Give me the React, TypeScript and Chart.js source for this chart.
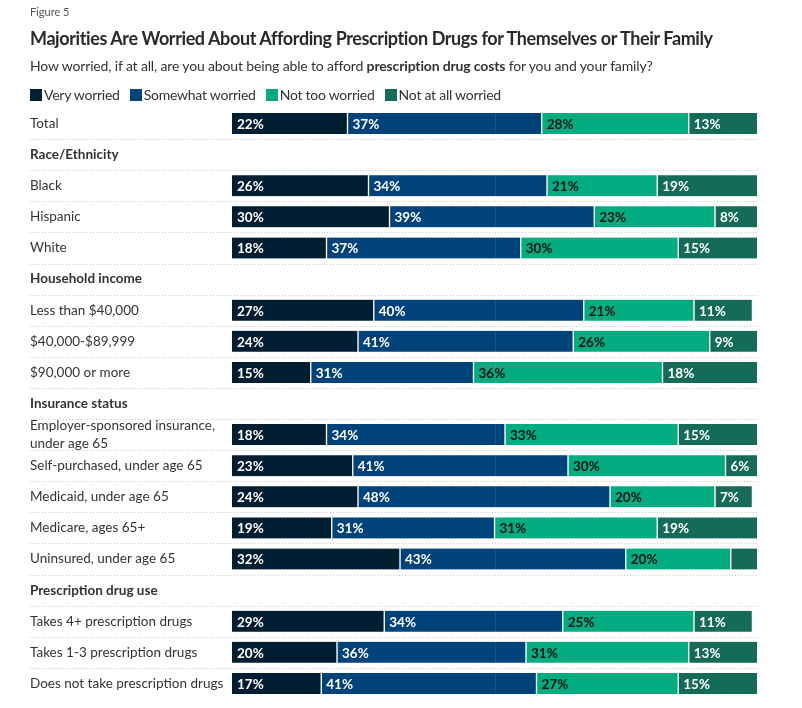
import React, { useEffect, useRef } from "react";
import { Chart, registerables } from "chart.js";

Chart.register(...registerables);

const FONT = "Lato, 'Noto Sans', sans-serif";

const categories: (string | string[])[] = [
  "Total",
  "Race/Ethnicity",
  "Black",
  "Hispanic",
  "White",
  "Household income",
  "Less than $40,000",
  "$40,000-$89,999",
  "$90,000 or more",
  "Insurance status",
  ["Employer-sponsored insurance,", "under age 65"],
  "Self-purchased, under age 65",
  "Medicaid, under age 65",
  "Medicare, ages 65+",
  "Uninsured, under age 65",
  "Prescription drug use",
  "Takes 4+ prescription drugs",
  "Takes 1-3 prescription drugs",
  "Does not take prescription drugs",
];

const sectionHeaders = ["Race/Ethnicity", "Household income", "Insurance status", "Prescription drug use"];

const seriesNames = ["Very worried", "Somewhat worried", "Not too worried", "Not at all worried"];
const seriesColors = ["#001e32", "#00427a", "#00ac80", "#136b58"];
const labelColors = ["#ffffff", "#ffffff", "#111111", "#ffffff"];

const veryWorried = [22, null, 26, 30, 18, null, 27, 24, 15, null, 18, 23, 24, 19, 32, null, 29, 20, 17];
const somewhatWorried = [37, null, 34, 39, 37, null, 40, 41, 31, null, 34, 41, 48, 31, 43, null, 34, 36, 41];
const notTooWorried = [28, null, 21, 23, 30, null, 21, 26, 36, null, 33, 30, 20, 31, 20, null, 25, 31, 27];
const notAtAllWorried = [13, null, 19, 8, 15, null, 11, 9, 18, null, 15, 6, 7, 19, 5, null, 11, 13, 15];

const seriesValues = [veryWorried, somewhatWorried, notTooWorried, notAtAllWorried];

const minLabelValue = 6;

export default function App() {
  const ref = useRef<HTMLCanvasElement>(null);

  useEffect(() => {
    document.body.style.margin = "0";
    const canvas = ref.current;
    if (!canvas) return;

    const separators = {
      id: "separators",
      afterDraw(chart: any) {
        const y = chart.scales.y;
        const area = chart.chartArea;
        const ctx = chart.ctx;
        ctx.save();
        ctx.strokeStyle = "#c8c8c8";
        ctx.lineWidth = 1;
        ctx.setLineDash([1, 2]);
        for (let i = 0; i < categories.length - 1; i++) {
          const py = Math.round((y.getPixelForValue(i) + y.getPixelForValue(i + 1)) / 2) + 0.5;
          ctx.beginPath();
          ctx.moveTo(30, py);
          ctx.lineTo(area.right, py);
          ctx.stroke();
        }
        ctx.restore();
      },
    };

    const valueLabels = {
      id: "valueLabels",
      afterDatasetsDraw(chart: any) {
        const ctx = chart.ctx;
        const x = chart.scales.x;
        const area = chart.chartArea;
        ctx.save();
        // faint 50% reference line over the bars
        const mx = Math.round(x.getPixelForValue(50)) + 0.5;
        ctx.strokeStyle = "rgba(255,255,255,0.09)";
        ctx.lineWidth = 1;
        ctx.beginPath();
        ctx.moveTo(mx, area.top);
        ctx.lineTo(mx, area.bottom);
        ctx.stroke();

        ctx.font = `bold 13.5px ${FONT}`;
        ctx.textBaseline = "middle";
        ctx.textAlign = "left";
        chart.data.datasets.forEach((ds: any, di: number) => {
          const meta = chart.getDatasetMeta(di);
          meta.data.forEach((el: any, i: number) => {
            const v = ds.data[i];
            if (v == null || v < minLabelValue) return;
            const p = el.getProps(["x", "y", "base"], true);
            ctx.fillStyle = labelColors[di];
            ctx.fillText(`${v}%`, Math.min(p.base, p.x) + 5, p.y + 1);
          });
        });
        ctx.restore();
      },
    };

    const chart = new Chart(canvas, {
      type: "bar",
      data: {
        labels: categories,
        datasets: seriesNames.map((name, di) => ({
          label: name,
          data: seriesValues[di],
          backgroundColor: seriesColors[di],
          borderColor: "#ffffff",
          borderWidth: {
            left: di === 0 ? 0 : 1,
            right: di === seriesNames.length - 1 ? 0 : 1,
            top: 0,
            bottom: 0,
          },
          borderSkipped: false,
          barThickness: 21,
        })),
      },
      options: {
        indexAxis: "y",
        animation: false,
        responsive: false,
        maintainAspectRatio: false,
        layout: { padding: { left: 30, right: 45, top: 108, bottom: 4 } },
        plugins: {
          legend: { display: false },
          tooltip: { enabled: false },
          title: { display: false },
        },
        scales: {
          x: {
            type: "linear",
            stacked: true,
            min: 0,
            max: 100,
            display: false,
          },
          y: {
            type: "category",
            stacked: true,
            offset: true,
            grid: { display: false },
            border: { display: false },
            afterFit: (scale: any) => {
              scale.width = 202;
            },
            ticks: {
              crossAlign: "far",
              padding: 0,
              autoSkip: false,
              color: "#333333",
              font: (ctx: any) => {
                const lbl = categories[ctx.index];
                const isHeader = typeof lbl === "string" && sectionHeaders.includes(lbl);
                return { family: FONT, size: 13.5, weight: isHeader ? "bold" : "normal", lineHeight: 1.33 };
              },
            },
          },
        },
      },
      plugins: [separators, valueLabels],
    } as any);

    return () => chart.destroy();
  }, []);

  return (
    <div style={{ position: "relative", width: 802, height: 708, fontFamily: FONT, color: "#222" }}>
      <canvas ref={ref} width={802} height={708} style={{ position: "absolute", left: 0, top: 0 }} />
      <div style={{ position: "absolute", left: 30, top: 4, fontSize: 11, lineHeight: "16px", color: "#555" }}>
        Figure 5
      </div>
      <div style={{ position: "absolute", left: 30, top: 27, fontSize: 18, letterSpacing: "-0.4px", lineHeight: "22px", fontWeight: 700, color: "#2a2a2a", whiteSpace: "nowrap" }}>
        Majorities Are Worried About Affording Prescription Drugs for Themselves or Their Family
      </div>
      <div style={{ position: "absolute", left: 30, top: 57, fontSize: 14, letterSpacing: "-0.15px", lineHeight: "18px", color: "#333", whiteSpace: "nowrap" }}>
        How worried, if at all, are you about being able to afford <b>prescription drug costs</b> for you and your family?
      </div>
      <div style={{ position: "absolute", left: 30, top: 86, fontSize: 14, letterSpacing: "-0.25px", lineHeight: "18px", color: "#333", display: "flex", whiteSpace: "nowrap" }}>
        {seriesNames.map((name, i) => (
          <div key={name} style={{ display: "flex", alignItems: "center", marginRight: 10 }}>
            <span style={{ display: "inline-block", width: 12, height: 12, background: seriesColors[i], marginRight: 2 }} />
            <span>{name}</span>
          </div>
        ))}
      </div>
    </div>
  );
}
